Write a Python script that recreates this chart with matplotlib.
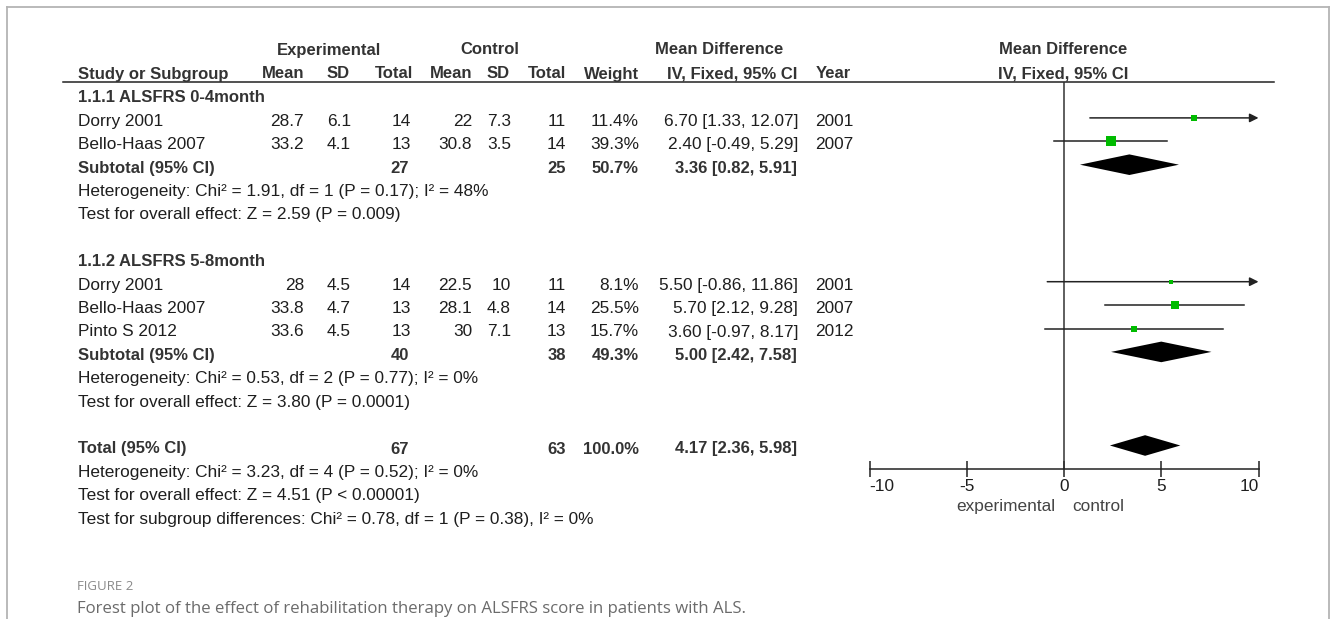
import matplotlib
matplotlib.use("Agg")
import matplotlib.pyplot as plt
import numpy as np

# ---------------- data ----------------
group_titles = ["1.1.1 ALSFRS 0-4month", "1.1.2 ALSFRS 5-8month"]

studies1 = ["Dorry 2001", "Bello-Haas 2007"]
exp_mean1 = [28.7, 33.2]
exp_sd1 = [6.1, 4.1]
exp_n1 = [14, 13]
ctl_mean1 = [22, 30.8]
ctl_sd1 = [7.3, 3.5]
ctl_n1 = [11, 14]
weight1 = [11.4, 39.3]
md1 = [6.70, 2.40]
lo1 = [1.33, -0.49]
hi1 = [12.07, 5.29]
year1 = [2001, 2007]
sub1 = dict(exp_n=27, ctl_n=25, weight=50.7, md=3.36, lo=0.82, hi=5.91)
het1 = "Heterogeneity: Chi\u00b2 = 1.91, df = 1 (P = 0.17); I\u00b2 = 48%"
test1 = "Test for overall effect: Z = 2.59 (P = 0.009)"

studies2 = ["Dorry 2001", "Bello-Haas 2007", "Pinto S 2012"]
exp_mean2 = [28, 33.8, 33.6]
exp_sd2 = [4.5, 4.7, 4.5]
exp_n2 = [14, 13, 13]
ctl_mean2 = [22.5, 28.1, 30]
ctl_sd2 = [10, 4.8, 7.1]
ctl_n2 = [11, 14, 13]
weight2 = [8.1, 25.5, 15.7]
md2 = [5.50, 5.70, 3.60]
lo2 = [-0.86, 2.12, -0.97]
hi2 = [11.86, 9.28, 8.17]
year2 = [2001, 2007, 2012]
sub2 = dict(exp_n=40, ctl_n=38, weight=49.3, md=5.00, lo=2.42, hi=7.58)
het2 = "Heterogeneity: Chi\u00b2 = 0.53, df = 2 (P = 0.77); I\u00b2 = 0%"
test2 = "Test for overall effect: Z = 3.80 (P = 0.0001)"

total = dict(exp_n=67, ctl_n=63, weight=100.0, md=4.17, lo=2.36, hi=5.98)
het_tot = "Heterogeneity: Chi\u00b2 = 3.23, df = 4 (P = 0.52); I\u00b2 = 0%"
test_tot = "Test for overall effect: Z = 4.51 (P < 0.00001)"
test_sub = "Test for subgroup differences: Chi\u00b2 = 0.78, df = 1 (P = 0.38), I\u00b2 = 0%"

x_ticks = [-10, -5, 0, 5, 10]
x_tick_labels = ["-10", "-5", "0", "5", "10"]
favours = ["experimental", "control"]

caption_label = "FIGURE 2"
caption_text = "Forest plot of the effect of rehabilitation therapy on ALSFRS score in patients with ALS."

# ---------------- layout (pixels) ----------------
W, H = 1330, 619
ROW0 = 98.0        # pixel y of first row text
DY = 23.4          # row spacing
MARK_OFF = -3.5    # forest marks slightly above text centre
FS = 12.4
FSB = 12.0
FONT = "Liberation Sans"
TXT = "#1e1e1e"
BOLD = "#333333"
GREEN = "#00bb00"

X_STUDY = 78
X_EMEAN, X_ESD, X_ETOT = 304, 351, 411
X_CMEAN, X_CSD, X_CTOT = 472, 511, 566
X_WEIGHT, X_CI, X_YEAR = 639, 798, 815
PX_M10, PX_P10 = 869.5, 1258.5

fig = plt.figure(figsize=(W / 100, H / 100), dpi=100)
bg = fig.add_axes([0, 0, 1, 1])
bg.set_xlim(0, W)
bg.set_ylim(H, 0)
bg.axis("off")

# frame
frame_kw = dict(color="#b4b4b4", lw=1.3)
bg.plot([6.5, 1329], [7, 7], **frame_kw)
bg.plot([6.5, 6.5], [7, H], **frame_kw)
bg.plot([1329, 1329], [7, H], **frame_kw)


def rowpx(i):
    return ROW0 + DY * i


def t(x, y, s, ha="left", bold=False, **kw):
    bg.text(x, y, s, ha=ha, va="center",
            fontsize=kw.pop("fontsize", FSB if bold else FS),
            family=kw.pop("family", FONT),
            fontweight="bold" if bold else "normal",
            color=kw.pop("color", BOLD if bold else TXT), **kw)


# headers
t(329, 50, "Experimental", ha="center", bold=True)
t(490, 50, "Control", ha="center", bold=True)
t(719, 50, "Mean Difference", ha="center", bold=True)
t(1063, 50, "Mean Difference", ha="center", bold=True)
t(X_STUDY, 74, "Study or Subgroup", bold=True)
t(X_EMEAN, 74, "Mean", ha="right", bold=True)
t(X_ESD - 1, 74, "SD", ha="right", bold=True)
t(X_ETOT + 2, 74, "Total", ha="right", bold=True)
t(X_CMEAN, 74, "Mean", ha="right", bold=True)
t(X_CSD - 1, 74, "SD", ha="right", bold=True)
t(X_CTOT, 74, "Total", ha="right", bold=True)
t(X_WEIGHT, 74, "Weight", ha="right", bold=True)
t(X_CI - 1, 74, "IV, Fixed, 95% CI", ha="right", bold=True)
t(X_YEAR + 1, 74, "Year", bold=True)
t(1063, 74, "IV, Fixed, 95% CI", ha="center", bold=True)
bg.plot([63, 1274], [82, 82], color="#222222", lw=1.1)


def fmt(v):
    return f"{v:g}"


def study_rows(start, names, em, esd, en, cm, csd, cn, w, md, lo, hi, yr):
    for k in range(len(names)):
        y = rowpx(start + k)
        t(X_STUDY, y, names[k])
        t(X_EMEAN, y, fmt(em[k]), ha="right")
        t(X_ESD, y, fmt(esd[k]), ha="right")
        t(X_ETOT, y, str(en[k]), ha="right")
        t(X_CMEAN, y, fmt(cm[k]), ha="right")
        t(X_CSD, y, fmt(csd[k]), ha="right")
        t(X_CTOT, y, str(cn[k]), ha="right")
        t(X_WEIGHT, y, f"{w[k]:.1f}%", ha="right")
        t(X_CI, y, f"{md[k]:.2f} [{lo[k]:.2f}, {hi[k]:.2f}]", ha="right")
        t(X_YEAR, y, str(yr[k]))


def summary_row(i, label, d):
    y = rowpx(i)
    t(X_STUDY, y, label, bold=True)
    t(X_ETOT - 2, y, str(d["exp_n"]), ha="right", bold=True)
    t(X_CTOT, y, str(d["ctl_n"]), ha="right", bold=True)
    t(X_WEIGHT, y, f"{d['weight']:.1f}%", ha="right", bold=True)
    t(X_CI - 1, y, f"{d['md']:.2f} [{d['lo']:.2f}, {d['hi']:.2f}]", ha="right", bold=True)


# group 1
t(X_STUDY, rowpx(0), group_titles[0], bold=True)
study_rows(1, studies1, exp_mean1, exp_sd1, exp_n1, ctl_mean1, ctl_sd1, ctl_n1,
           weight1, md1, lo1, hi1, year1)
summary_row(3, "Subtotal (95% CI)", sub1)
t(X_STUDY, rowpx(4), het1)
t(X_STUDY, rowpx(5), test1)
# group 2
t(X_STUDY, rowpx(7), group_titles[1], bold=True)
study_rows(8, studies2, exp_mean2, exp_sd2, exp_n2, ctl_mean2, ctl_sd2, ctl_n2,
           weight2, md2, lo2, hi2, year2)
summary_row(11, "Subtotal (95% CI)", sub2)
t(X_STUDY, rowpx(12), het2)
t(X_STUDY, rowpx(13), test2)
# total
summary_row(15, "Total (95% CI)", total)
t(X_STUDY, rowpx(16), het_tot)
t(X_STUDY, rowpx(17), test_tot)
t(X_STUDY, rowpx(18), test_sub)

# caption
bg.text(77, 586, caption_label, ha="left", va="center", fontsize=9.5,
        family="Open Sans", color="#8a8a8a")
bg.text(77, 609, caption_text, ha="left", va="center", fontsize=12.1,
        family="Open Sans", color="#6b6b6b")

# ---------------- forest axes ----------------
ax = fig.add_axes([PX_M10 / W, 0, (PX_P10 - PX_M10) / W, 1])
ax.patch.set_alpha(0)
ax.set_xlim(-10, 10)
top_row = -(ROW0 + MARK_OFF) / DY
bot_row = (H - ROW0 - MARK_OFF) / DY
ax.set_ylim(bot_row, top_row)
for s in ["left", "right", "top"]:
    ax.spines[s].set_visible(False)
ax.set_yticks([])

axis_row = 16
ax.spines["bottom"].set_position(("data", axis_row))
ax.spines["bottom"].set_bounds(-10, 10)
ax.spines["bottom"].set_color("#222222")
ax.spines["bottom"].set_linewidth(1.1)
ax.set_xticks(x_ticks, labels=x_tick_labels)
ax.tick_params(axis="x", direction="inout", length=12, width=1.1, color="#222222",
               pad=1, labelsize=FS, labelcolor=TXT)
for lbl in ax.get_xticklabels():
    lbl.set_family(FONT)
labels = ax.get_xticklabels()
labels[0].set_ha("left")
labels[-1].set_ha("right")

header_row = (82 - ROW0 - MARK_OFF) / DY
ax.vlines(0, header_row, axis_row, color="#333333", lw=1.1)

ax.text(-0.45, axis_row + 1.6, favours[0], ha="right", va="center",
        fontsize=FS, family=FONT, color="#444444")
ax.text(0.42, axis_row + 1.6, favours[1], ha="left", va="center",
        fontsize=FS, family=FONT, color="#444444")


def draw_studies(start, md, lo, hi, w):
    for k in range(len(md)):
        y = start + k
        left = max(lo[k], -10)
        right = min(hi[k], 10)
        if hi[k] > 10:
            ax.annotate("", xy=(right, y), xytext=(left, y),
                        arrowprops=dict(arrowstyle="-|>", color="#222222", lw=1.1,
                                        mutation_scale=13, shrinkA=0, shrinkB=0))
        else:
            ax.plot([left, right], [y, y], color="#222222", lw=1.1)
        side_pt = 1.75 * np.sqrt(w[k]) * 0.72
        ax.plot(md[k], y, marker="s", markersize=side_pt, color=GREEN,
                markeredgewidth=0, zorder=3)


def diamond(y, d, h=0.44):
    ax.fill([d["lo"], d["md"], d["hi"], d["md"]], [y, y - h, y, y + h],
            color="black", lw=0, zorder=3)


draw_studies(1, md1, lo1, hi1, weight1)
diamond(3, sub1)
draw_studies(8, md2, lo2, hi2, weight2)
diamond(11, sub2)
diamond(15, total)

fig.savefig("out.png", dpi=100)
